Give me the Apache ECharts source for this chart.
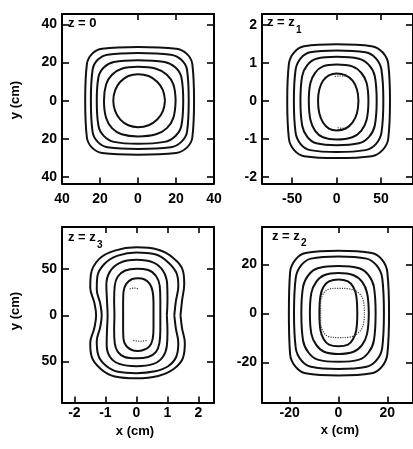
<!DOCTYPE html>
<html>
<head>
<meta charset="utf-8">
<script src="https://cdn.jsdelivr.net/npm/echarts@6/dist/echarts.min.js"></script>
<style>
  html, body { margin: 0; padding: 0; background: #fff; }
  #chart { width: 413px; height: 449px; }
</style>
</head>
<body>
<div id="chart"></div>
<script>
// ---- tick values and their printed labels ----
const z0XTicks = [-40, -20, 0, 20, 40];
const z0XLabels = ['40', '20', '0', '20', '40'];
const z0YTicks = [-40, -20, 0, 20, 40];
const z0YLabels = ['40', '20', '0', '20', '40'];

const z1XTicks = [-50, 0, 50];
const z1XLabels = ['-50', '0', '50'];
const z1YTicks = [-2, -1, 0, 1, 2];
const z1YLabels = ['-2', '-1', '0', '1', '2'];

const z3XTicks = [-2, -1, 0, 1, 2];
const z3XLabels = ['-2', '-1', '0', '1', '2'];
const z3YTicks = [-50, 0, 50];
const z3YLabels = ['50', '0', '50'];

const z2XTicks = [-20, 0, 20];
const z2XLabels = ['-20', '0', '20'];
const z2YTicks = [-20, 0, 20];
const z2YLabels = ['-20', '0', '20'];

// ticks along the top edge (left ones sit under the panel caption)
const z0TopTicks = [0, 20];
const z1TopTicks = [0, 50];
const z3TopTicks = [-1, 0, 1, 2];
const z2TopTicks = [0, 20];

// ---- contour lines, outermost first, as closed [x, y] loops ----
const contoursZ0 = [
  [[29.5,0],[28.6,19.1],[25.7,24.5],[20.1,27.2],[0,28.1],[-18.9,27.2],[-24.2,24.5],[-26.9,19.1],[-27.8,0],[-26.9,-19.3],[-24.2,-24.6],[-18.9,-27.4],[0,-28.3],[20.1,-27.4],[25.7,-24.6],[28.6,-19.3],[29.5,0]],
  [[26.7,0],[25.8,16.2],[22.8,21.4],[17.3,24.1],[0,25],[-16.0,24.1],[-21.2,21.4],[-23.9,16.2],[-24.8,0],[-23.9,-16.4],[-21.2,-21.6],[-16.0,-24.4],[0,-25.3],[17.3,-24.4],[22.8,-21.6],[25.8,-16.4],[26.7,0]],
  [[23.8,0],[22.8,12.4],[19.6,17.5],[14.0,20.3],[0,21.2],[-12.7,20.3],[-17.9,17.5],[-20.8,12.4],[-21.7,0],[-20.8,-13.3],[-17.9,-18.6],[-12.7,-21.6],[0,-22.6],[14.0,-21.6],[19.6,-18.6],[22.8,-13.3],[23.8,0]],
  [[19.8,0],[18.6,8.5],[15.2,13.6],[9.5,16.7],[0,17.7],[-8.6,16.7],[-13.7,13.6],[-16.8,8.5],[-17.9,0],[-16.8,-9.0],[-13.7,-14.4],[-8.6,-17.6],[0,-18.75],[9.5,-17.6],[15.2,-14.4],[18.6,-9.0],[19.8,0]],
  [[14.2,0],[13.1,5.5],[10.1,9.9],[5.6,12.9],[0,13.9],[-5.1,12.9],[-9.3,9.9],[-12.0,5.5],[-13,0],[-12.0,-5.5],[-9.3,-9.9],[-5.1,-12.9],[0,-13.9],[5.6,-12.9],[10.1,-9.9],[13.1,-5.5],[14.2,0]]
];

const contoursZ1 = [
  [[60.1,0],[58.1,0.98],[51.7,1.28],[39.6,1.44],[0,1.49],[-36.6,1.44],[-47.8,1.28],[-53.7,0.98],[-55.6,0],[-53.7,-1.0],[-47.8,-1.30],[-36.6,-1.46],[0,-1.51],[39.6,-1.46],[51.7,-1.30],[58.1,-1.0],[60.1,0]],
  [[52.6,0],[50.5,0.82],[44.2,1.12],[32.6,1.28],[0,1.33],[-29.8,1.28],[-40.5,1.12],[-46.2,0.82],[-48.1,0],[-46.2,-0.84],[-40.5,-1.14],[-29.8,-1.30],[0,-1.35],[32.6,-1.30],[44.2,-1.14],[50.5,-0.84],[52.6,0]],
  [[45.1,0],[43.0,0.65],[36.5,0.94],[25.2,1.11],[0,1.16],[-22.8,1.11],[-33.0,0.94],[-38.8,0.65],[-40.7,0],[-38.8,-0.65],[-33.0,-0.95],[-22.8,-1.12],[0,-1.17],[25.2,-1.12],[36.5,-0.95],[43.0,-0.65],[45.1,0]],
  [[35.8,0],[33.8,0.47],[27.7,0.74],[17.6,0.91],[0,0.96],[-15.4,0.91],[-24.2,0.74],[-29.5,0.47],[-31.3,0],[-29.5,-0.50],[-24.2,-0.79],[-15.4,-0.96],[0,-1.02],[17.6,-0.96],[27.7,-0.79],[33.8,-0.50],[35.8,0]],
  [[24.6,0],[22.9,0.30],[18.0,0.53],[10.3,0.67],[0,0.72],[-8.7,0.67],[-15.3,0.53],[-19.5,0.30],[-20.9,0],[-19.5,-0.33],[-15.3,-0.57],[-8.7,-0.73],[0,-0.78],[10.3,-0.73],[18.0,-0.57],[22.9,-0.33],[24.6,0]]
];
const dottedZ1 = [
  [[-2,0.64],[5,0.655],[12,0.64]],
  [[1,-0.71],[6,-0.72],[11,-0.71]]
];

const contoursZ3 = [
  [[1.42,0],[1.47,-14],[1.56,-30],[1.5,-46],[1.2,-58],[0.7,-65.5],[0,-68],[-0.7,-66],[-1.15,-58],[-1.45,-44],[-1.49,-30],[-1.36,-14],[-1.3,0],[-1.36,14],[-1.49,30],[-1.47,44],[-1.2,61],[-0.7,70],[0,73.5],[0.7,71],[1.15,63],[1.5,48],[1.54,34],[1.47,16],[1.42,0]],
  [[1.22,0],[1.27,-14],[1.35,-30],[1.28,-45],[1.02,-55],[0.6,-60.5],[0,-62.5],[-0.6,-61],[-1.0,-54],[-1.24,-42],[-1.28,-28],[-1.17,-13],[-1.12,0],[-1.17,13],[-1.28,28],[-1.26,42],[-1.02,56],[-0.6,64.5],[0,68],[0.6,66],[1.0,58],[1.3,45],[1.35,32],[1.27,15],[1.22,0]],
  [[0.98,0],[1.0,-18],[0.98,-33],[0.85,-45],[0.55,-52.5],[0,-55],[-0.55,-52.5],[-0.85,-45],[-0.96,-32],[-0.95,-16],[-0.93,0],[-0.95,16],[-0.97,33],[-0.86,47],[-0.55,56.5],[0,60],[0.55,57],[0.86,48],[0.99,34],[1.0,17],[0.98,0]],
  [[0.77,0],[0.77,-16],[0.74,-30],[0.63,-39.5],[0.38,-45],[0,-46.5],[-0.38,-45],[-0.6,-39.5],[-0.7,-30],[-0.72,-16],[-0.71,0],[-0.72,16],[-0.7,32],[-0.6,42],[-0.36,48.5],[0,50.5],[0.38,49],[0.63,42.5],[0.75,32],[0.77,16],[0.77,0]],
  [[0.55,0],[0.55,-14],[0.52,-26],[0.42,-33.5],[0.22,-37.5],[0.05,-38.5],[-0.15,-37.5],[-0.33,-33],[-0.42,-25],[-0.43,-12],[-0.43,0],[-0.43,12],[-0.42,25],[-0.33,34],[-0.15,39],[0.05,40],[0.25,39],[0.43,34],[0.52,26],[0.55,14],[0.55,0]]
];
const dottedZ3 = [
  [[-0.22,28.5],[-0.07,29.5],[0.08,28.5]],
  [[-0.1,-27],[0.12,-28],[0.34,-27]]
];

const contoursZ2 = [
  [[20.7,0],[20.0,16.8],[17.8,21.9],[13.6,24.6],[0,25.5],[-13.5,24.6],[-17.6,21.9],[-19.8,16.8],[-20.3,0],[-19.8,-16.7],[-17.6,-21.8],[-13.5,-24.5],[0,-25.4],[13.6,-24.5],[17.8,-21.8],[20.0,-16.7],[20.7,0]],
  [[18.6,0],[17.9,14.4],[15.6,19.5],[11.5,22.3],[0,23.2],[-11.3,22.3],[-15.3,19.5],[-17.5,14.4],[-18.2,0],[-17.5,-14.1],[-15.3,-19.1],[-11.3,-21.8],[0,-22.7],[11.5,-21.8],[15.6,-19.1],[17.9,-14.1],[18.6,0]],
  [[15.2,0],[14.5,10.8],[12.3,15.6],[8.5,18.4],[0,19.3],[-8.5,18.4],[-12.3,15.6],[-14.5,10.8],[-15.2,0],[-14.5,-11.1],[-12.3,-16.0],[-8.5,-18.9],[0,-19.8],[8.5,-18.9],[12.3,-16.0],[14.5,-11.1],[15.2,0]],
  [[12.4,0],[11.7,8.3],[9.7,12.8],[6.2,15.5],[0,16.4],[-5.9,15.5],[-9.1,12.8],[-11.1,8.3],[-11.7,0],[-11.1,-8.4],[-9.1,-12.9],[-5.9,-15.7],[0,-16.6],[6.2,-15.7],[9.7,-12.9],[11.7,-8.4],[12.4,0]],
  [[7.7,0],[7.3,7.0],[6.0,10.8],[3.9,13.0],[0,13.8],[-3.9,13.0],[-6.1,10.8],[-7.4,7.0],[-7.8,0],[-7.4,-6.8],[-6.1,-10.5],[-3.9,-12.8],[0,-13.5],[3.9,-12.8],[6.0,-10.5],[7.3,-6.8],[7.7,0]]
];
const dottedZ2 = [
  [[10.6,0],[10.2,5],[8,8.5],[4,10],[0,10.2],[-4,9.8],[-6.5,7.5],[-7.3,3],[-7.3,-3],[-6.5,-7],[-4,-9.5],[0,-9.9],[4,-9.8],[8,-8],[10.2,-4.5],[10.6,0]]
];

// ---- panel layout ----
const FONT = '"Liberation Sans", Arial, sans-serif';
const panels = [
  { box: { left: 62, top: 14, width: 152, height: 169.5 }, xRange: [-40, 40], yRange: [-43.4, 45.4],
    xTicks: z0XTicks, xLabels: z0XLabels, yTicks: z0YTicks, yLabels: z0YLabels,
    topTicks: z0TopTicks, rightTicks: z0YTicks, xMargin: 9,
    contours: contoursZ0, dotted: [] },
  { box: { left: 262, top: 14, width: 152, height: 169.5 }, xRange: [-84, 86], yRange: [-2.18, 2.29],
    xTicks: z1XTicks, xLabels: z1XLabels, yTicks: z1YTicks, yLabels: z1YLabels,
    topTicks: z1TopTicks, rightTicks: z1YTicks, xMargin: 9,
    contours: contoursZ1, dotted: dottedZ1 },
  { box: { left: 62, top: 227, width: 152, height: 175.5 }, xRange: [-2.4, 2.5], yRange: [-94.2, 95.5],
    xTicks: z3XTicks, xLabels: z3XLabels, yTicks: z3YTicks, yLabels: z3YLabels,
    topTicks: z3TopTicks, rightTicks: z3YTicks, xMargin: 4,
    contours: contoursZ3, dotted: dottedZ3 },
  { box: { left: 262, top: 227, width: 152, height: 175.5 }, xRange: [-31.3, 30.5], yRange: [-36.4, 35.2],
    xTicks: z2XTicks, xLabels: z2XLabels, yTicks: z2YTicks, yLabels: z2YLabels,
    topTicks: z2TopTicks, rightTicks: z2YTicks, xMargin: 4,
    contours: contoursZ2, dotted: dottedZ2 }
];

function labelFor(ticks, labels) {
  return function (v) {
    for (let i = 0; i < ticks.length; i++) {
      if (Math.abs(ticks[i] - v) < 1e-9) return labels[i];
    }
    return '';
  };
}

const frameLine = { show: true, onZero: false, lineStyle: { color: '#000', width: 2 } };
const tickStyle = { color: '#000', width: 1.6 };
const labelStyle = { color: '#000', fontFamily: FONT, fontWeight: 'bold', fontSize: 14 };

const grid = [], xAxis = [], yAxis = [], series = [];
panels.forEach((p, i) => {
  grid.push(Object.assign({ containLabel: false }, p.box));
  xAxis.push({
    type: 'value', gridIndex: i, position: 'bottom', min: p.xRange[0], max: p.xRange[1],
    axisLine: frameLine, splitLine: { show: false },
    axisTick: { inside: true, length: 6, customValues: p.xTicks, lineStyle: tickStyle },
    axisLabel: Object.assign({ customValues: p.xTicks, formatter: labelFor(p.xTicks, p.xLabels), margin: p.xMargin }, labelStyle)
  });
  xAxis.push({
    type: 'value', gridIndex: i, position: 'top', min: p.xRange[0], max: p.xRange[1],
    axisLine: frameLine, splitLine: { show: false }, axisLabel: { show: false },
    axisTick: { inside: true, length: 6, customValues: p.topTicks, lineStyle: tickStyle }
  });
  yAxis.push({
    type: 'value', gridIndex: i, position: 'left', min: p.yRange[0], max: p.yRange[1],
    axisLine: frameLine, splitLine: { show: false },
    axisTick: { inside: true, length: 7, customValues: p.yTicks, lineStyle: tickStyle },
    axisLabel: Object.assign({ customValues: p.yTicks, formatter: labelFor(p.yTicks, p.yLabels), margin: 5 }, labelStyle)
  });
  yAxis.push({
    type: 'value', gridIndex: i, position: 'right', min: p.yRange[0], max: p.yRange[1],
    axisLine: frameLine, splitLine: { show: false }, axisLabel: { show: false },
    axisTick: { inside: true, length: 7, customValues: p.rightTicks, lineStyle: tickStyle }
  });
  p.contours.forEach(c => series.push({
    type: 'line', xAxisIndex: 2 * i, yAxisIndex: 2 * i, data: c,
    showSymbol: false, smooth: 0.4, silent: true,
    lineStyle: { color: '#111', width: 2 }
  }));
  p.dotted.forEach(c => series.push({
    type: 'line', xAxisIndex: 2 * i, yAxisIndex: 2 * i, data: c,
    showSymbol: false, smooth: 0.4, silent: true,
    lineStyle: { color: '#444', width: 1.2, type: 'dotted' }
  }));
});

const txt = (text, x, y, size, extra) => Object.assign({
  type: 'text', x: x, y: y, silent: true,
  style: { text: text, fill: '#000', font: 'bold ' + size + 'px ' + FONT, textVerticalAlign: 'top' }
}, extra || {});

const graphic = [
  txt('z = 0', 68, 17, 13),
  txt('z = z', 267, 16, 13), txt('1', 296, 25, 10),
  txt('z = z', 68, 231, 13), txt('3', 97, 240, 10),
  txt('z = z', 272, 230, 13), txt('2', 301, 238, 10),
  { type: 'text', x: 15, y: 100, rotation: Math.PI / 2, silent: true,
    style: { text: 'y (cm)', fill: '#000', font: 'bold 13px ' + FONT, textAlign: 'center', textVerticalAlign: 'middle' } },
  { type: 'text', x: 15, y: 311, rotation: Math.PI / 2, silent: true,
    style: { text: 'y (cm)', fill: '#000', font: 'bold 13px ' + FONT, textAlign: 'center', textVerticalAlign: 'middle' } },
  { type: 'text', x: 135, y: 431, silent: true,
    style: { text: 'x (cm)', fill: '#000', font: 'bold 13px ' + FONT, textAlign: 'center', textVerticalAlign: 'middle' } },
  { type: 'text', x: 340, y: 430, silent: true,
    style: { text: 'x (cm)', fill: '#000', font: 'bold 13px ' + FONT, textAlign: 'center', textVerticalAlign: 'middle' } }
];

const chart = echarts.init(document.getElementById('chart'), null, { renderer: 'canvas' });
chart.setOption({
  animation: false,
  backgroundColor: '#fff',
  grid: grid, xAxis: xAxis, yAxis: yAxis, series: series, graphic: graphic
});
</script>
</body>
</html>
